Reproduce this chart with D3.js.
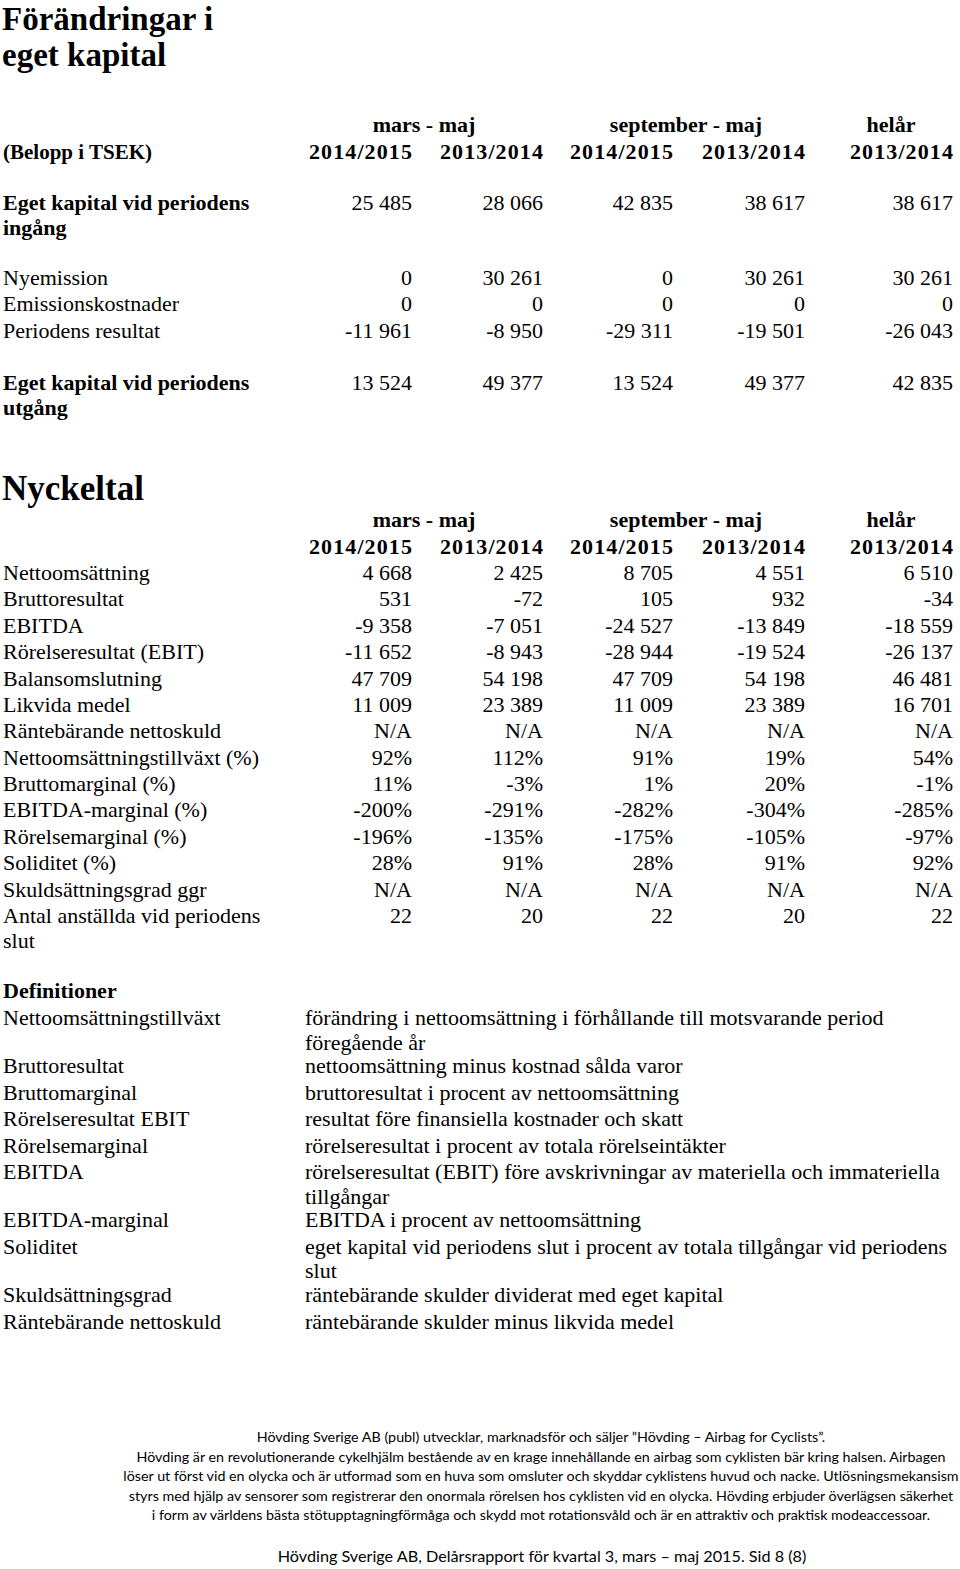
<!DOCTYPE html>
<html>
<head>
<meta charset="utf-8">
<script src="https://cdn.jsdelivr.net/npm/d3@7"></script>
<style>
  body { margin: 0; background: #fff; }
  svg text { fill: #000; }
</style>
</head>
<body>
<svg id="page"></svg>
<script>
const width = 960, height = 1569;
const serif = "'Liberation Serif', 'DejaVu Serif', serif";
const sans = "'Liberation Sans Narrow', Lato, 'Liberation Sans', sans-serif";

// column headers
const groups = ["mars - maj", "september - maj", "helår"];
const years = ["2014/2015", "2013/2014", "2014/2015", "2013/2014", "2013/2014"];

// Förändringar i eget kapital
const equityLabels = [
  ["Eget kapital vid periodens", "ingång"],
  ["Nyemission"],
  ["Emissionskostnader"],
  ["Periodens resultat"],
  ["Eget kapital vid periodens", "utgång"]
];
const equityBold = [true, false, false, false, true];
const equityValues = [
  ["25 485", "28 066", "42 835", "38 617", "38 617"],
  ["0", "30 261", "0", "30 261", "30 261"],
  ["0", "0", "0", "0", "0"],
  ["-11 961", "-8 950", "-29 311", "-19 501", "-26 043"],
  ["13 524", "49 377", "13 524", "49 377", "42 835"]
];
const equitySlots = [0, 2.85, 3.85, 4.85, 6.85];

// Nyckeltal
const keyLabels = [
  ["Nettoomsättning"], ["Bruttoresultat"], ["EBITDA"], ["Rörelseresultat (EBIT)"],
  ["Balansomslutning"], ["Likvida medel"], ["Räntebärande nettoskuld"],
  ["Nettoomsättningstillväxt (%)"], ["Bruttomarginal (%)"], ["EBITDA-marginal (%)"],
  ["Rörelsemarginal (%)"], ["Soliditet (%)"], ["Skuldsättningsgrad ggr"],
  ["Antal anställda vid periodens", "slut"]
];
const keyValues = [
  ["4 668", "2 425", "8 705", "4 551", "6 510"],
  ["531", "-72", "105", "932", "-34"],
  ["-9 358", "-7 051", "-24 527", "-13 849", "-18 559"],
  ["-11 652", "-8 943", "-28 944", "-19 524", "-26 137"],
  ["47 709", "54 198", "47 709", "54 198", "46 481"],
  ["11 009", "23 389", "11 009", "23 389", "16 701"],
  ["N/A", "N/A", "N/A", "N/A", "N/A"],
  ["92%", "112%", "91%", "19%", "54%"],
  ["11%", "-3%", "1%", "20%", "-1%"],
  ["-200%", "-291%", "-282%", "-304%", "-285%"],
  ["-196%", "-135%", "-175%", "-105%", "-97%"],
  ["28%", "91%", "28%", "91%", "92%"],
  ["N/A", "N/A", "N/A", "N/A", "N/A"],
  ["22", "20", "22", "20", "22"]
];

// Definitioner
const defTerms = [
  "Nettoomsättningstillväxt", "Bruttoresultat", "Bruttomarginal", "Rörelseresultat EBIT",
  "Rörelsemarginal", "EBITDA", "EBITDA-marginal", "Soliditet", "Skuldsättningsgrad",
  "Räntebärande nettoskuld"
];
const defTexts = [
  ["förändring i nettoomsättning i förhållande till motsvarande period", "föregående år"],
  ["nettoomsättning minus kostnad sålda varor"],
  ["bruttoresultat i procent av nettoomsättning"],
  ["resultat före finansiella kostnader och skatt"],
  ["rörelseresultat i procent av totala rörelseintäkter"],
  ["rörelseresultat (EBIT) före avskrivningar av materiella och immateriella", "tillgångar"],
  ["EBITDA i procent av nettoomsättning"],
  ["eget kapital vid periodens slut i procent av totala tillgångar vid periodens", "slut"],
  ["räntebärande skulder dividerat med eget kapital"],
  ["räntebärande skulder minus likvida medel"]
];

const footerLines = [
  "Hövding Sverige AB (publ) utvecklar, marknadsför och säljer ”Hövding – Airbag for Cyclists”.",
  "Hövding är en revolutionerande cykelhjälm bestående av en krage innehållande en airbag som cyklisten bär kring halsen. Airbagen",
  "löser ut först vid en olycka och är utformad som en huva som omsluter och skyddar cyklistens huvud och nacke. Utlösningsmekansism",
  "styrs med hjälp av sensorer som registrerar den onormala rörelsen hos cyklisten vid en olycka. Hövding erbjuder överlägsen säkerhet",
  "i form av världens bästa stötupptagningförmåga och skydd mot rotationsvåld och är en attraktiv och praktisk modeaccessoar."
];
const pageFooter = "Hövding Sverige AB, Delårsrapport för kvartal 3, mars – maj 2015. Sid 8 (8)";

const svg = d3.select("#page").attr("width", width).attr("height", height)
  .style("font-family", serif);
svg.append("rect").attr("width", width).attr("height", height).attr("fill", "#fff");

// right edge of each value column, centre of each group header
const colX = d3.scaleOrdinal().domain(d3.range(5)).range([412, 543, 673, 805, 953]);
const groupX = d3.scaleOrdinal().domain(groups).range([424, 686, 891]);
const fs = 22, lineGap = 24.5, rowStep = 26.4;

function title(g, lines, y0, size) {
  g.selectAll(null).data(lines).join("text")
    .attr("x", 2).attr("y", (d, i) => y0 + i * 36)
    .attr("font-size", size).attr("font-weight", "bold").text(d => d);
}

function headers(g, y0) {
  g.selectAll(null).data(groups).join("text")
    .attr("x", d => groupX(d)).attr("y", y0).attr("text-anchor", "middle")
    .attr("font-size", fs).attr("font-weight", "bold").text(d => d);
  g.selectAll(null).data(years).join("text")
    .attr("x", (d, i) => colX(i) + 1).attr("y", y0 + 26.5).attr("text-anchor", "end")
    .attr("letter-spacing", 1.1)
    .attr("font-size", fs).attr("font-weight", "bold").text(d => d);
}

function rows(g, labels, values, yScale, slots, bold) {
  const row = g.selectAll(null).data(labels).join("g")
    .attr("transform", (d, i) => `translate(0,${yScale(slots ? slots[i] : i)})`)
    .attr("font-weight", (d, i) => bold && bold[i] ? "bold" : "normal");
  row.selectAll("text.lbl").data(d => d).join("text").attr("class", "lbl")
    .attr("x", 3).attr("y", (d, i) => i * lineGap)
    .attr("font-size", fs).text(d => d);
  row.selectAll("text.val").data((d, i) => values[i]).join("text").attr("class", "val")
    .attr("x", (d, j) => colX(j)).attr("y", 0).attr("text-anchor", "end")
    .attr("font-weight", "normal").attr("font-size", fs).text(d => d);
}

// Section 1
const s1 = svg.append("g");
title(s1, ["Förändringar i", "eget kapital"], 30, 33);
s1.append("text").attr("x", 3).attr("y", 158.5).attr("font-size", 21)
  .attr("font-weight", "bold").text("(Belopp i TSEK)");
headers(s1, 132);
const y1 = d3.scaleLinear().domain([0, 1]).range([210, 236.3]);
rows(s1, equityLabels, equityValues, y1, equitySlots, equityBold);

// Section 2
const s2 = svg.append("g");
title(s2, ["Nyckeltal"], 500, 35);
headers(s2, 527);
const y2 = d3.scaleLinear().domain([0, keyLabels.length - 1]).range([580, 923]);
rows(s2, keyLabels, keyValues, y2, null, null);

// Definitions
const s3 = svg.append("g");
s3.append("text").attr("x", 3).attr("y", 998).attr("font-size", fs)
  .attr("font-weight", "bold").text("Definitioner");
let yDef = 1025;
const defY = defTexts.map(t => { const y = yDef; yDef += rowStep + (t.length - 1) * 22; return y; });
const defRow = s3.selectAll(null).data(defTerms).join("g")
  .attr("transform", (d, i) => `translate(0,${defY[i]})`);
defRow.append("text").attr("x", 3).attr("font-size", fs).text(d => d);
defRow.selectAll("text.def").data((d, i) => defTexts[i]).join("text").attr("class", "def")
  .attr("x", 305).attr("y", (d, i) => i * lineGap).attr("font-size", fs).text(d => d);

// Footer
const s4 = svg.append("g").style("font-family", sans);
s4.selectAll(null).data(footerLines).join("text")
  .attr("x", 541).attr("y", (d, i) => 1442 + i * 19.6).attr("text-anchor", "middle")
  .attr("font-size", 14.3).text(d => d);
s4.append("text").attr("x", 542).attr("y", 1562).attr("text-anchor", "middle")
  .attr("font-size", 16.2).text(pageFooter);
</script>
</body>
</html>
